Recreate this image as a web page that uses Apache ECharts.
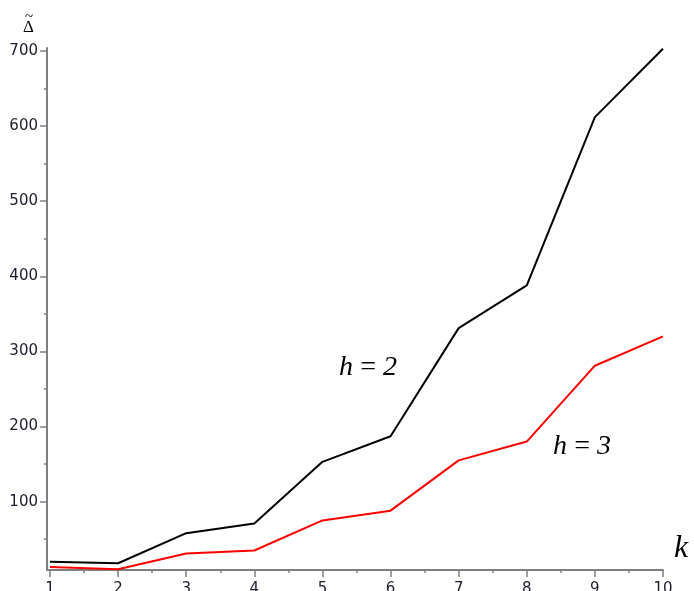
<!DOCTYPE html>
<html>
<head>
<meta charset="utf-8">
<script src="https://cdn.jsdelivr.net/npm/echarts@6/dist/echarts.min.js"></script>
<style>
  html, body { margin: 0; padding: 0; background: #fff; }
  #main { width: 694px; height: 591px; }
</style>
</head>
<body>
<div id="main"></div>
<script>
// values
var k = [1, 2, 3, 4, 5, 6, 7, 8, 9, 10];
var h2 = [20, 18, 58, 71, 153, 187, 331, 388, 612, 703];
var h3 = [13, 10, 31, 35, 75, 88, 155, 180, 281, 320];
var yTicks = [100, 200, 300, 400, 500, 600, 700];
var yMinor = [50, 150, 250, 350, 450, 550, 650];
var xMinor = [1.5, 2.5, 3.5, 4.5, 5.5, 6.5, 7.5, 8.5, 9.5];

var chart = echarts.init(document.getElementById('main'));

var axisCol = '#7f7f7f';
var labelFont = { fontFamily: 'DejaVu Sans', fontSize: 15, color: '#1c1c2c' };

function pairs(ys) {
  return k.map(function (x, i) { return [x, ys[i]]; });
}

chart.setOption({
  animation: false,
  grid: { left: 47, right: 31, top: 48, bottom: 21, containLabel: false, outerBoundsMode: 'none' },
  xAxis: [
    {
      type: 'value', min: 0.956, max: 10,
      axisLine: { lineStyle: { color: axisCol, width: 2 } },
      axisTick: { show: true, length: 7, customValues: k, lineStyle: { color: axisCol, width: 1.5 } },
      axisLabel: Object.assign({ margin: 12, customValues: k }, labelFont),
      splitLine: { show: false }
    },
    {
      type: 'value', min: 0.956, max: 10, position: 'bottom',
      axisLine: { show: false },
      axisTick: { show: true, length: 3, customValues: xMinor, lineStyle: { color: axisCol, width: 1.5 } },
      axisLabel: { show: false },
      splitLine: { show: false }
    }
  ],
  yAxis: [
    {
      type: 'value', min: 9, max: 704,
      axisLine: { show: true, lineStyle: { color: axisCol, width: 2 } },
      axisTick: { show: true, length: 7, customValues: yTicks, lineStyle: { color: axisCol, width: 1.5 } },
      axisLabel: Object.assign({ margin: 9, customValues: yTicks }, labelFont),
      splitLine: { show: false }
    },
    {
      type: 'value', min: 9, max: 704, position: 'left',
      axisLine: { show: false },
      axisTick: { show: true, length: 3, customValues: yMinor, lineStyle: { color: axisCol, width: 1.5 } },
      axisLabel: { show: false },
      splitLine: { show: false }
    }
  ],
  series: [
    {
      name: 'h=2', type: 'line', data: pairs(h2), showSymbol: false,
      lineStyle: { color: '#000', width: 2 }, itemStyle: { color: '#000' }
    },
    {
      name: 'h=3', type: 'line', data: pairs(h3), showSymbol: false,
      lineStyle: { color: '#ff0000', width: 2 }, itemStyle: { color: '#ff0000' }
    }
  ],
  graphic: [
    { type: 'text', left: 23, top: 19, style: { text: 'Δ', font: '17px "Liberation Serif"', fill: '#000' } },
    { type: 'text', left: 25, top: 10, style: { text: '~', font: '15px "Liberation Serif"', fill: '#000' } },
    { type: 'text', left: 674, top: 533, style: { text: 'k', font: 'italic 32px "Liberation Serif"', fill: '#000' } },
    { type: 'text', left: 339, top: 354, style: { text: 'h\u2009=\u20092', font: 'italic 28px "Liberation Serif"', fill: '#000' } },
    { type: 'text', left: 553, top: 433, style: { text: 'h\u2009=\u20093', font: 'italic 28px "Liberation Serif"', fill: '#000' } }
  ]
});
</script>
</body>
</html>
